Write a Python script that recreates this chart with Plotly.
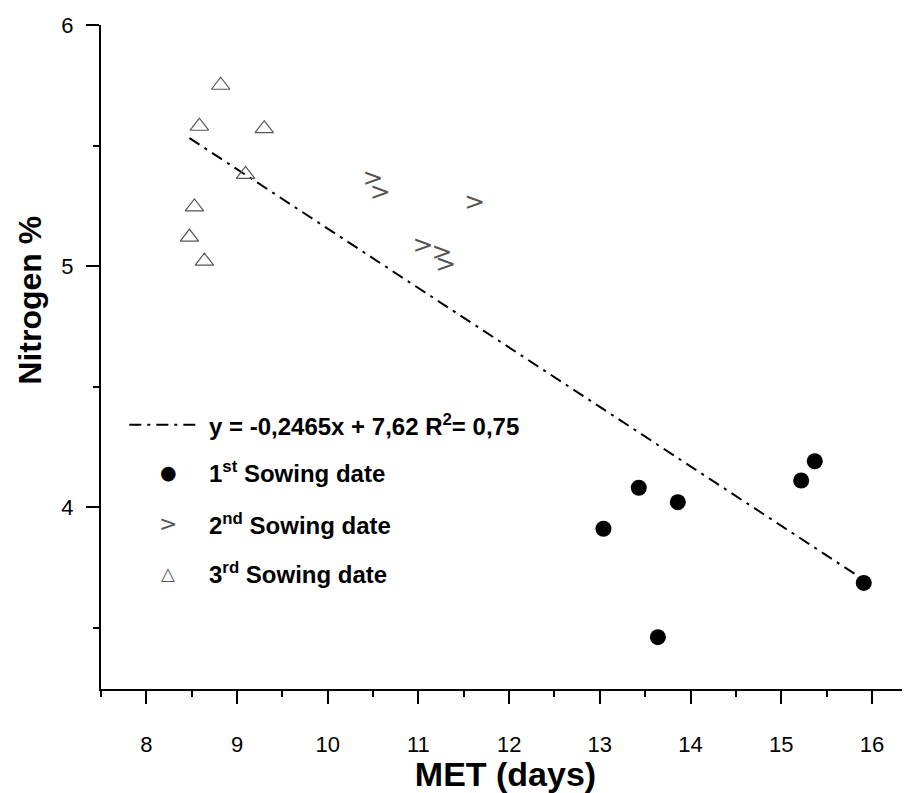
import plotly.graph_objects as go

# 1st sowing date (filled circles)
met_1st = [13.04, 13.43, 13.64, 13.86, 15.22, 15.37, 15.91]
n_1st = [3.91, 4.08, 3.46, 4.02, 4.11, 4.19, 3.685]

# 2nd sowing date
met_2nd = [10.50, 10.58, 11.05, 11.26, 11.30, 11.62]
n_2nd = [5.36, 5.30, 5.08, 5.05, 5.00, 5.26]

# 3rd sowing date (open triangles)
met_3rd = [8.475, 8.53, 8.585, 8.64, 8.82, 9.094, 9.30]
n_3rd = [5.12, 5.245, 5.58, 5.02, 5.75, 5.38, 5.57]

# regression
slope = -0.2465
intercept = 7.62
fit_label = "y = -0,2465x + 7,62 R<sup>2</sup>= 0,75"
legend_labels = ["1<sup>st</sup> Sowing date", "2<sup>nd</sup> Sowing date", "3<sup>rd</sup> Sowing date"]

all_x = met_1st + met_2nd + met_3rd
fx = [min(all_x), max(all_x)]
fy = [slope * v + intercept for v in fx]

FONT = "Liberation Sans, Arial, sans-serif"

fig = go.Figure()
fig.add_trace(go.Scatter(x=fx, y=fy, mode="lines",
                         line=dict(color="black", width=2, dash="12px,6px,3px,6px"),
                         showlegend=False))
fig.add_trace(go.Scatter(x=met_1st, y=n_1st, mode="markers",
                         marker=dict(symbol="circle", size=16, color="black",
                                     line=dict(width=0)),
                         showlegend=False))
fig.add_trace(go.Scatter(x=met_2nd, y=n_2nd, mode="text", text=[">"] * len(met_2nd),
                         textposition="middle center",
                         textfont=dict(family="DejaVu Sans", size=25, color="#555555"),
                         showlegend=False))
fig.add_trace(go.Scatter(x=met_3rd, y=n_3rd, mode="markers",
                         marker=dict(symbol="triangle-up-open", size=16, color="#555555",
                                     line=dict(width=1.2)),
                         showlegend=False))

# custom legend (paper coords)
fig.add_shape(type="line", xref="paper", yref="paper", x0=0.035, x1=0.122, y0=0.398, y1=0.398,
              line=dict(color="black", width=2, dash="12px,6px,3px,6px"))
fig.add_annotation(xref="paper", yref="paper", x=0.131, y=0.398, xanchor="left", yanchor="middle",
                   text="<b>" + fit_label + "</b>", showarrow=False,
                   font=dict(family=FONT, size=24, color="black"))
glyphs = ["●", ">", "△"]
glyph_sizes = [19, 22, 18]
glyph_colors = ["black", "#555555", "#555555"]
rows_y = [0.327, 0.249, 0.174]
for g, gs, gc, lab, ry in zip(glyphs, glyph_sizes, glyph_colors, legend_labels, rows_y):
    fig.add_annotation(xref="paper", yref="paper", x=0.083, y=ry, xanchor="center", yanchor="middle",
                       text=g, showarrow=False, font=dict(family="DejaVu Sans", size=gs, color=gc))
    fig.add_annotation(xref="paper", yref="paper", x=0.131, y=ry, xanchor="left", yanchor="middle",
                       text="<b>" + lab + "</b>", showarrow=False,
                       font=dict(family=FONT, size=24, color="black"))

# y axis title (placed as in the reference, above centre)
fig.add_annotation(xref="paper", yref="paper", x=-0.088, y=0.586, xanchor="center", yanchor="middle",
                   text="<b>Nitrogen %</b>", textangle=-90, showarrow=False,
                   font=dict(family=FONT, size=32, color="black"))

axis_common = dict(showline=True, linecolor="black", linewidth=2, mirror=False,
                   ticks="outside", ticklen=13, tickwidth=2, tickcolor="black",
                   showgrid=False, zeroline=False,
                   tickfont=dict(family=FONT, size=22, color="black"))

fig.update_xaxes(range=[7.5, 16.42], dtick=1, tick0=8,
                 minor=dict(dtick=0.5, tick0=7.5, ticklen=6, tickwidth=2, tickcolor="black",
                            ticks="outside", showgrid=False),
                 title=dict(text="<b>MET (days)</b>", font=dict(family=FONT, size=34, color="black"),
                            standoff=4),
                 ticklabelstandoff=22,
                 **axis_common)
fig.update_yaxes(range=[3.245, 6], dtick=1, tick0=4,
                 minor=dict(dtick=0.5, tick0=3.5, ticklen=6, tickwidth=2, tickcolor="black",
                            ticks="outside", showgrid=False),
                 ticklabelstandoff=8,
                 **axis_common)

fig.update_layout(width=902, height=785,
                  margin=dict(l=93, r=0, t=17, b=104),
                  plot_bgcolor="white", paper_bgcolor="white",
                  showlegend=False)

fig.write_html("out.html")
